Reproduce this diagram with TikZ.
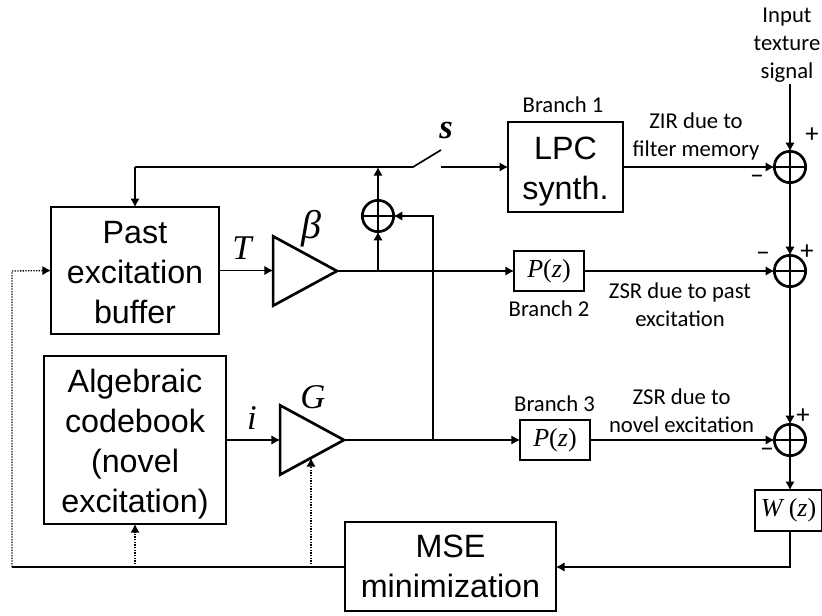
\documentclass[tikz,border=0pt]{standalone}
\usepackage{fontspec}
\setmainfont{Liberation Sans}
\newfontfamily\labelfont{Carlito}
\newfontfamily\symbfont{Liberation Serif}
\usetikzlibrary{arrows.meta,shapes.geometric}
\tikzset{
  block/.style={draw, line width=1.5pt, align=center, inner sep=0pt, outer sep=0pt, font=\fontsize{24.2}{30}\selectfont},
  filterbox/.style={draw, line width=1.5pt, inner sep=0pt, outer sep=0pt, font=\symbfont\fontsize{19.5}{22}\selectfont},
  gainamp/.style={draw, line width=2pt, isosceles triangle, isosceles triangle apex angle=57, inner sep=0pt, outer sep=0pt, minimum height=47pt, minimum width=52pt},
  sumnode/.style={draw, circle, line width=2pt, minimum size=23.5pt, inner sep=0pt, outer sep=0pt,
    path picture={\draw[line width=2pt] (path picture bounding box.north) -- (path picture bounding box.south)
      (path picture bounding box.west) -- (path picture bounding box.east);}},
  sig/.style={line width=1pt, -{Latex[length=6.5pt,width=7pt]}},
  wire/.style={line width=1.25pt},
  feedback/.style={line width=1pt, dash pattern=on 1pt off 1pt, -{Latex[length=6.5pt,width=7pt]}},
  note/.style={font=\labelfont\fontsize{17}{21}\selectfont, align=center, inner sep=0pt},
  sym/.style={font=\symbfont\itshape\fontsize{26}{30}\selectfont, inner sep=0pt},
  signmark/.style={font=\labelfont\fontsize{20}{20}\selectfont, inner sep=0pt}
}
\begin{document}
\begin{tikzpicture}[x=0.75pt, y=-0.75pt]
  \useasboundingbox (0,0) rectangle (822,615);
  % Blocks
  \node[block, minimum width=126pt, minimum height=95pt] (buffer) at (135,270.5) {\rule{0pt}{19.5pt}Past\\excitation\\buffer};
  \node[block, minimum width=136.5pt, minimum height=126pt] (codebook) at (135,440) {\rule{0pt}{23.5pt}Algebraic\\codebook\\(novel\\excitation)};
  \node[block, minimum width=86pt, minimum height=67.5pt] (lpc) at (565.5,167) {\rule{0pt}{23.5pt}LPC\\synth.};
  \node[block, minimum width=158pt, minimum height=67pt] (mse) at (450.5,566.5) {MSE\\minimization};
  \node[filterbox, minimum width=52.5pt, minimum height=30.5pt] (ptwo) at (549,271) {\textit{P}(\textit{z})};
  \node[filterbox, minimum width=52.5pt, minimum height=30.5pt] (pthree) at (555,440) {\textit{P}(\textit{z})};
  \node[filterbox, minimum width=50pt, minimum height=30.5pt] (wz) at (788.5,510.5) {\textit{W}\,(\textit{z})};
  % Gains
  \node[gainamp, anchor=apex] (beta) at (337,271) {};
  \node[gainamp, anchor=apex] (gain) at (344,440) {};
  % Adders
  \node[sumnode] (addgain) at (378,216) {};
  \node[sumnode] (addone) at (790,167) {};
  \node[sumnode] (addtwo) at (790,271) {};
  \node[sumnode] (addthree) at (790,440) {};
  % Junctions
  \coordinate (input) at (790,84);
  \coordinate (tapbeta) at (378,271);
  \coordinate (tapgain) at (433,440);
  \coordinate (tapswitch) at (378,167);
  \coordinate (swleft) at (413,167);
  \coordinate (swtip) at (441,150);
  \coordinate (swright) at (441,167);
  \coordinate (turntop) at (135,167);
  \coordinate (turngain) at (433,216);
  \coordinate (turnw) at (790,567);
  \coordinate (fbleft) at (12,567);
  \coordinate (fbup) at (12,271);
  \coordinate (fbcode) at (135,567);
  \coordinate (fbgain) at (311,567);
  \coordinate (gainin) at (311,458);
  % Forward path
  \draw[sig] (buffer.east) -- (buffer.east -| beta.west);
  \draw[sig] (codebook.east) -- (codebook.east -| gain.west);
  \draw[sig] (beta.apex) -- (ptwo.west);
  \draw[sig] (gain.apex) -- (pthree.west);
  \draw[sig] (tapbeta) -- (addgain.south);
  \draw[sig] (tapgain) -- (turngain) -- (addgain.east);
  \draw[sig] (addgain.north) -- (tapswitch);
  % Switch and memory loop
  \draw[wire] (swtip) -- (swleft) -- (turntop);
  \draw[sig] (turntop) -- (buffer.north);
  \draw[sig] (swright) -- (lpc.west);
  % Right column
  \draw[sig] (input) -- (addone.north);
  \draw[sig] (lpc.east) -- (addone.west);
  \draw[sig] (addone.south) -- (addtwo.north);
  \draw[sig] (ptwo.east) -- (addtwo.west);
  \draw[sig] (addtwo.south) -- (addthree.north);
  \draw[sig] (pthree.east) -- (addthree.west);
  \draw[sig] (addthree.south) -- (wz.north -| addthree.south);
  \draw[sig] (wz.south -| addthree.south) -- (turnw) -- (mse.east |- turnw);
  % Error feedback
  \draw[wire] (mse.west |- fbleft) -- (fbleft);
  \draw[feedback] (fbleft) -- (fbup) -- (buffer.west);
  \draw[feedback] (fbcode) -- (codebook.south);
  \draw[feedback] (fbgain) -- (gainin);
  % Labels
  \node[sym] (symT) at (242,248) {T};
  \node[sym, font=\symbfont\itshape\fontsize{30}{30}\selectfont] (symbeta) at (311,229) {β};
  \node[sym, font=\symbfont\bfseries\itshape\fontsize{26}{30}\selectfont] (syms) at (446,130) {s};
  \node[sym] (symi) at (252,418) {i};
  \node[sym] (symG) at (313,397) {G};
  \node[note] (lblinput) at (787,45) {Input\\texture\\signal};
  \node[note] (lblone) at (563,105) {Branch 1};
  \node[note] (lbltwo) at (549,309) {Branch 2};
  \node[note] (lblthree) at (554.5,404) {Branch 3};
  \node[note] (lblzir) at (696,136) {ZIR due to\\filter memory};
  \node[note] (lblzsrp) at (680,305) {ZSR due to past\\excitation};
  \node[note] (lblzsrn) at (681.5,411) {ZSR due to\\novel excitation};
  % Signs
  \node[signmark] (plusone) at (812,135) {+};
  \node[signmark] (minusone) at (757,180) {−};
  \node[signmark] (plustwo) at (807,252) {+};
  \node[signmark] (minustwo) at (763,257) {−};
  \node[signmark] (plusthree) at (803,416) {+};
  \node[signmark] (minusthree) at (767,453) {−};
\end{tikzpicture}
\end{document}
